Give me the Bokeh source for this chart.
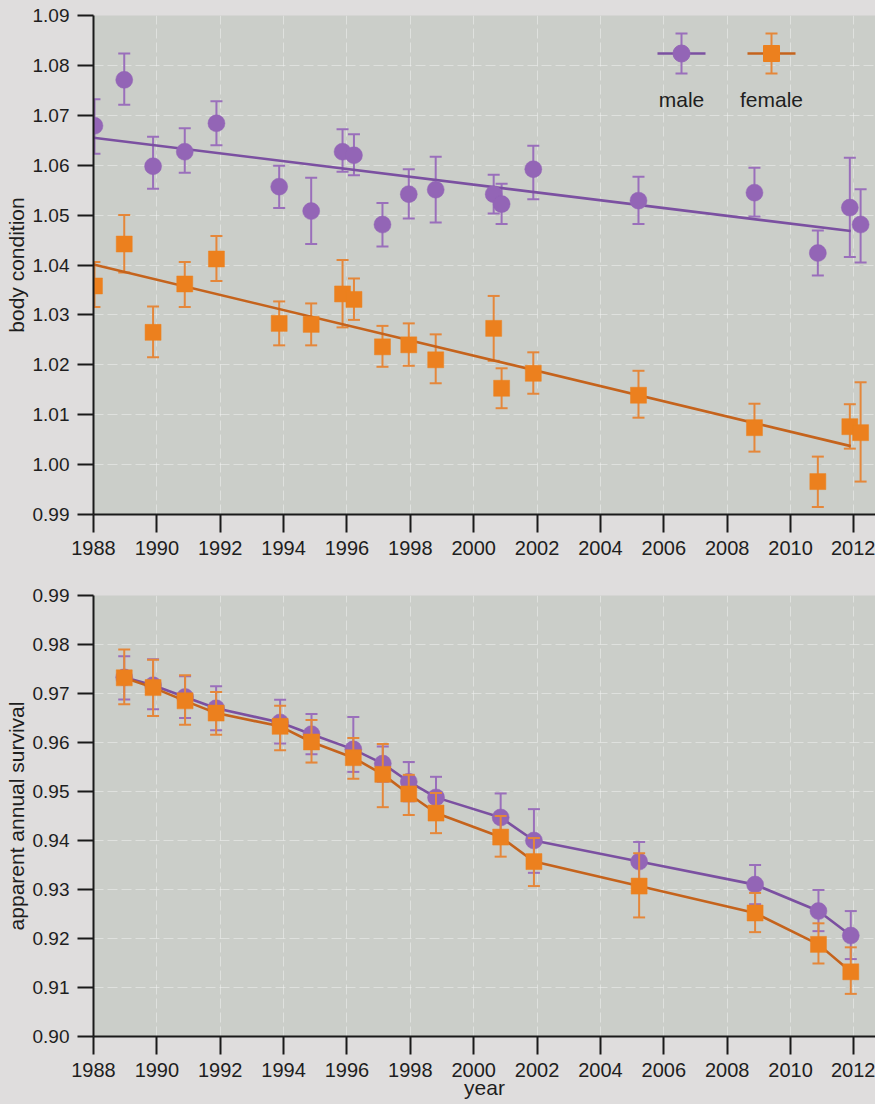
from bokeh.plotting import figure
from bokeh.models import Range1d, FixedTicker, PrintfTickFormatter, ColumnDataSource
from bokeh.layouts import column
from bokeh.embed import file_html
from bokeh.resources import INLINE
from bokeh.core.properties import value

# ---------------- data ----------------
year_ticks = [1988, 1990, 1992, 1994, 1996, 1998, 2000, 2002, 2004, 2006, 2008, 2010, 2012]
bc_ticks = [0.99, 1.00, 1.01, 1.02, 1.03, 1.04, 1.05, 1.06, 1.07, 1.08, 1.09]
surv_ticks = [0.90, 0.91, 0.92, 0.93, 0.94, 0.95, 0.96, 0.97, 0.98, 0.99]

# body condition panel
bc_years = [1988.03, 1988.97, 1989.88, 1990.88, 1991.88, 1993.86, 1994.87, 1995.86,
            1996.22, 1997.12, 1997.95, 1998.80, 2000.63, 2000.88, 2001.88, 2005.20,
            2008.86, 2010.86, 2011.87, 2012.21]
male_bc = [1.0679, 1.0771, 1.0598, 1.0627, 1.0684, 1.0557, 1.0508, 1.0627, 1.0620, 1.0481,
           1.0542, 1.0551, 1.0542, 1.0522, 1.0592, 1.0529, 1.0545, 1.0424, 1.0515, 1.0481]
male_bc_hi = [1.0732, 1.0824, 1.0657, 1.0674, 1.0728, 1.0599, 1.0575, 1.0672, 1.0662, 1.0524,
              1.0592, 1.0617, 1.0581, 1.0563, 1.0639, 1.0577, 1.0595, 1.0469, 1.0615, 1.0552]
male_bc_lo = [1.0623, 1.0721, 1.0553, 1.0585, 1.0640, 1.0514, 1.0442, 1.0587, 1.0580, 1.0437,
              1.0493, 1.0485, 1.0503, 1.0482, 1.0532, 1.0482, 1.0497, 1.0379, 1.0416, 1.0405]
female_bc = [1.0358, 1.0442, 1.0265, 1.0362, 1.0412, 1.0283, 1.0281, 1.0342, 1.0331, 1.0236,
             1.0240, 1.0210, 1.0273, 1.0153, 1.0183, 1.0139, 1.0074, 0.9966, 1.0076, 1.0064]
female_bc_hi = [1.0406, 1.0500, 1.0317, 1.0406, 1.0458, 1.0327, 1.0323, 1.0410, 1.0373, 1.0278,
                1.0283, 1.0261, 1.0338, 1.0193, 1.0225, 1.0188, 1.0122, 1.0016, 1.0121, 1.0165]
female_bc_lo = [1.0316, 1.0385, 1.0215, 1.0316, 1.0368, 1.0239, 1.0239, 1.0275, 1.0290, 1.0196,
                1.0198, 1.0163, 1.0208, 1.0113, 1.0142, 1.0094, 1.0026, 0.9915, 1.0032, 0.9966]
fit_years = [1988.0, 2011.9]
male_fit = [1.0655, 1.0468]
female_fit = [1.0401, 1.0037]

# apparent annual survival panel
surv_years = [1988.97, 1989.88, 1990.89, 1991.87, 1993.89, 1994.88, 1996.20, 1997.13,
              1997.95, 1998.81, 2000.85, 2001.90, 2005.22, 2008.88, 2010.88, 2011.90]
male_s = [0.9733, 0.9717, 0.9693, 0.9670, 0.9641, 0.9617, 0.9586, 0.9557,
          0.9520, 0.9488, 0.9447, 0.9400, 0.9357, 0.9310, 0.9256, 0.9206]
male_s_hi = [0.9776, 0.9770, 0.9735, 0.9715, 0.9687, 0.9658, 0.9652, 0.9592,
             0.9560, 0.9530, 0.9496, 0.9464, 0.9397, 0.9350, 0.9299, 0.9256]
male_s_lo = [0.9688, 0.9668, 0.9650, 0.9625, 0.9598, 0.9576, 0.9540, 0.9520,
             0.9480, 0.9450, 0.9400, 0.9334, 0.9315, 0.9270, 0.9215, 0.9158]
female_s = [0.9732, 0.9712, 0.9685, 0.9660, 0.9633, 0.9601, 0.9569, 0.9535,
            0.9495, 0.9456, 0.9407, 0.9357, 0.9307, 0.9252, 0.9188, 0.9132]
female_s_hi = [0.9790, 0.9769, 0.9737, 0.9703, 0.9675, 0.9646, 0.9609, 0.9597,
               0.9534, 0.9497, 0.9450, 0.9405, 0.9374, 0.9293, 0.9231, 0.9182]
female_s_lo = [0.9678, 0.9654, 0.9636, 0.9616, 0.9584, 0.9559, 0.9526, 0.9468,
               0.9452, 0.9415, 0.9367, 0.9307, 0.9243, 0.9213, 0.9149, 0.9087]

series_labels = ["male", "female"]

# ---------------- style ----------------
FONT = "Liberation Sans"
PAGE_BG = "#dfdddd"
PLOT_BG = "#cbcec9"
TEXT = "#1e1e1e"
PURPLE = "#9365b6"
PURPLE_LINE = "#7b50a1"
PURPLE_ERR = "#9a6fbb"
ORANGE = "#ec801e"
ORANGE_LINE = "#c5631c"
ORANGE_ERR = "#e5873a"

X_RANGE = (1988.0, 2012.68)
FRAME_LEFT = 93
FRAME_W = 782


def make_fig(height, ylim, yticks, ylabel, border_top, border_bottom, left):
    p = figure(width=left + FRAME_W, height=height,
               x_range=Range1d(*X_RANGE), y_range=Range1d(*ylim),
               output_backend="svg", toolbar_location=None,
               min_border_left=left, min_border_right=0,
               min_border_top=border_top, min_border_bottom=border_bottom)
    p.background_fill_color = PLOT_BG
    p.border_fill_color = PAGE_BG
    p.outline_line_color = None

    p.xaxis.ticker = FixedTicker(ticks=year_ticks)
    p.yaxis.ticker = FixedTicker(ticks=yticks)
    p.yaxis.formatter = PrintfTickFormatter(format="%.2f")
    for ax in (p.xaxis, p.yaxis):
        ax.axis_line_color = "#1a1a1a"
        ax.axis_line_width = 2
        ax.major_tick_line_color = "#1a1a1a"
        ax.major_tick_line_width = 2
        ax.major_tick_in = 0
        ax.minor_tick_in = 0
        ax.minor_tick_out = 0
        ax.major_label_text_font = FONT
        ax.major_label_text_color = TEXT
        ax.axis_label_text_font = FONT
        ax.axis_label_text_font_style = "normal"
        ax.axis_label_text_font_size = "21px"
        ax.axis_label_text_color = TEXT
    p.xaxis.major_tick_out = 18
    p.xaxis.major_label_standoff = 8
    p.xaxis.major_label_text_font_size = "20px"
    p.yaxis.major_tick_out = 16
    p.yaxis.major_label_standoff = 8
    p.yaxis.major_label_text_font_size = "19px"
    p.yaxis.axis_label = ylabel
    p.yaxis.axis_label_standoff = 2

    p.grid.grid_line_color = "#f4f4f4"
    p.grid.grid_line_alpha = 0.5
    p.grid.grid_line_width = 1
    p.grid.grid_line_dash = "10 4"
    return p


def draw_series(p, xs, ys, lo, hi, marker, size, mcolor, ecolor, lcolor, line_x=None, line_y=None):
    src = ColumnDataSource(dict(x=xs, y=ys, lo=lo, hi=hi))
    p.segment(x0="x", y0="lo", x1="x", y1="hi", source=src, line_color=ecolor, line_width=2)
    p.scatter(x="x", y="hi", source=src, marker="dash", size=12, line_color=ecolor, line_width=2)
    p.scatter(x="x", y="lo", source=src, marker="dash", size=12, line_color=ecolor, line_width=2)
    if line_x is None:
        p.line(x="x", y="y", source=src, line_color=lcolor, line_width=2.6)
    else:
        p.line(line_x, line_y, line_color=lcolor, line_width=2.6)
    p.scatter(x="x", y="y", source=src, marker=marker, size=size,
              fill_color=mcolor, line_color=mcolor, line_width=0.5)


# ---------------- top panel: body condition ----------------
TOP_H, TOP_BT, TOP_BB = 570, 15, 56
p1 = make_fig(TOP_H, (bc_ticks[0], bc_ticks[-1]), bc_ticks, "body condition", TOP_BT, TOP_BB, FRAME_LEFT)
draw_series(p1, bc_years, male_bc, male_bc_lo, male_bc_hi, "circle", 17,
            PURPLE, PURPLE_ERR, PURPLE_LINE, fit_years, male_fit)
draw_series(p1, bc_years, female_bc, female_bc_lo, female_bc_hi, "square", 16,
            ORANGE, ORANGE_ERR, ORANGE_LINE, fit_years, female_fit)

# legend (positioned in screen pixels relative to the frame, converted to data units)
frame_h1 = TOP_H - TOP_BT - TOP_BB
ppx = FRAME_W / (X_RANGE[1] - X_RANGE[0])
ppy = frame_h1 / (bc_ticks[-1] - bc_ticks[0])


def sx(px):
    return X_RANGE[0] + px / ppx


def sy(py):
    return bc_ticks[-1] - py / ppy


leg_px = [588, 678]
leg_py = 38
leg_specs = [("circle", 17, PURPLE, PURPLE_LINE, PURPLE_ERR), ("square", 16, ORANGE, ORANGE_LINE, ORANGE_ERR)]
for cx, lab, (mk, sz, mc, lc, ec) in zip(leg_px, series_labels, leg_specs):
    p1.segment(x0=[sx(cx - 24)], y0=[sy(leg_py)], x1=[sx(cx + 24)], y1=[sy(leg_py)],
               line_color=lc, line_width=2.6)
    p1.segment(x0=[sx(cx)], y0=[sy(leg_py - 20)], x1=[sx(cx)], y1=[sy(leg_py + 20)],
               line_color=ec, line_width=2)
    p1.scatter(x=[sx(cx), sx(cx)], y=[sy(leg_py - 20), sy(leg_py + 20)], marker="dash",
               size=12, line_color=ec, line_width=2)
    p1.scatter(x=[sx(cx)], y=[sy(leg_py)], marker=mk, size=sz, fill_color=mc, line_color=mc)
    p1.text(x=[sx(cx)], y=[sy(84)], text=[lab], text_align="center", text_baseline="alphabetic",
            text_font=value(FONT), text_font_size="21px", text_color=TEXT)

# ---------------- bottom panel: apparent annual survival ----------------
BOT_H, BOT_BT, BOT_BB = 534, 25, 68
p2 = make_fig(BOT_H, (surv_ticks[0], surv_ticks[-1]), surv_ticks, "apparent annual survival",
              BOT_BT, BOT_BB, FRAME_LEFT)
p2.xaxis.axis_label = "year"
p2.xaxis.axis_label_standoff = -4
draw_series(p2, surv_years, male_s, male_s_lo, male_s_hi, "circle", 17,
            PURPLE, PURPLE_ERR, PURPLE_LINE)
draw_series(p2, surv_years, female_s, female_s_lo, female_s_hi, "square", 16,
            ORANGE, ORANGE_ERR, ORANGE_LINE)

layout = column(p1, p2, spacing=0)
layout.styles = {"background-color": PAGE_BG}

open("out.html", "w").write(file_html(layout, INLINE))
